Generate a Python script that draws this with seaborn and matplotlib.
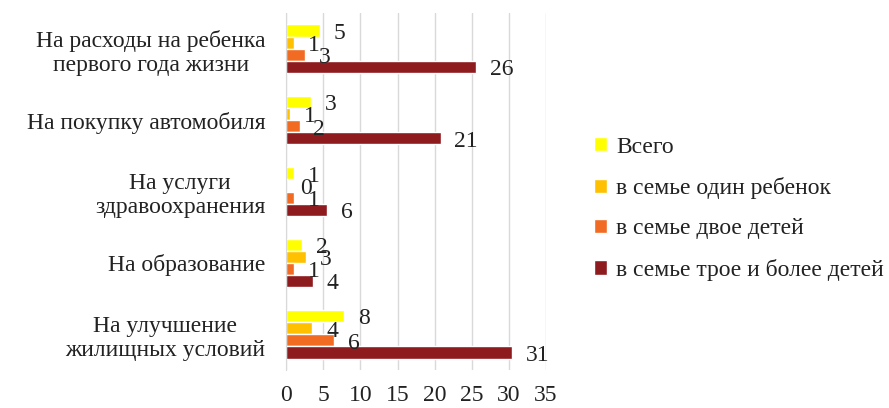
import pandas as pd
import matplotlib
matplotlib.use("Agg")
import matplotlib.pyplot as plt
import seaborn as sns
import numpy as np

# Categories (top to bottom) and series
categories = [
    "На расходы на ребенка\nпервого года жизни",
    "На покупку автомобиля",
    "На услуги\nздравоохранения",
    "На образование",
    "На улучшение\nжилищных условий",
]
series_names = ["Всего", "в семье один ребенок", "в семье двое детей", "в семье трое и более детей"]
vsego = [4.5, 3.4, 1.1, 2.1, 7.8]
odin = [1.1, 0.5, 0.0, 2.6, 3.5]
dvoe = [2.5, 1.8, 1.1, 1.1, 6.4]
troe = [25.6, 20.8, 5.5, 3.6, 30.5]
colors = ["#FFFF00", "#FFC000", "#F26B22", "#8E1B1E"]

df = pd.DataFrame({
    "cat": categories * 4,
    "series": np.repeat(series_names, len(categories)),
    "value": vsego + odin + dvoe + troe,
})

sns.set_style("white")
plt.rcParams["font.family"] = ["Liberation Serif", "DejaVu Serif"]
FS = 17

fig = plt.figure(figsize=(8.89, 4.08), dpi=100)
ax = fig.add_axes([0.322, 0.093, 0.292, 0.875])

sns.barplot(data=df, x="value", y="cat", hue="series", order=categories,
            hue_order=series_names, palette=colors, orient="h", width=0.68,
            saturation=1, ax=ax, legend=True)

# value labels, Excel-style rounding
for cont in ax.containers:
    for p in cont:
        w = p.get_width()
        lab = str(int(np.floor(w + 0.5)))
        ax.annotate(lab, xy=(w, p.get_y() + p.get_height() / 2), xytext=(10, -2),
                    textcoords="offset points", ha="left", va="center",
                    fontsize=FS, color="#222222")

ax.set_xlim(0, 35)
ax.set_xticks(range(0, 36, 5))
ax.set_ylim(4.5, -0.5)
ax.grid(axis="x", color="#D9D9D9", linewidth=1)
ax.set_axisbelow(True)
for s in ["top", "right", "bottom"]:
    ax.spines[s].set_visible(False)
ax.spines["left"].set_color("#D9D9D9")
ax.tick_params(axis="both", length=0, labelsize=FS, colors="#222222")
ax.tick_params(axis="x", pad=11)
ax.tick_params(axis="y", pad=15)
ax.set_xlabel("")
ax.set_ylabel("")
for t in ax.get_yticklabels():
    t.set_multialignment("center")

leg = ax.legend(loc="upper left", bbox_to_anchor=(0.668, 0.665), bbox_transform=fig.transFigure,
                frameon=False, fontsize=FS, handlelength=0.55, handleheight=0.55,
                handletextpad=0.4, labelspacing=0.82, borderaxespad=0, borderpad=0)
for t in leg.get_texts():
    t.set_color("#222222")

fig.savefig("out.png", dpi=100)
